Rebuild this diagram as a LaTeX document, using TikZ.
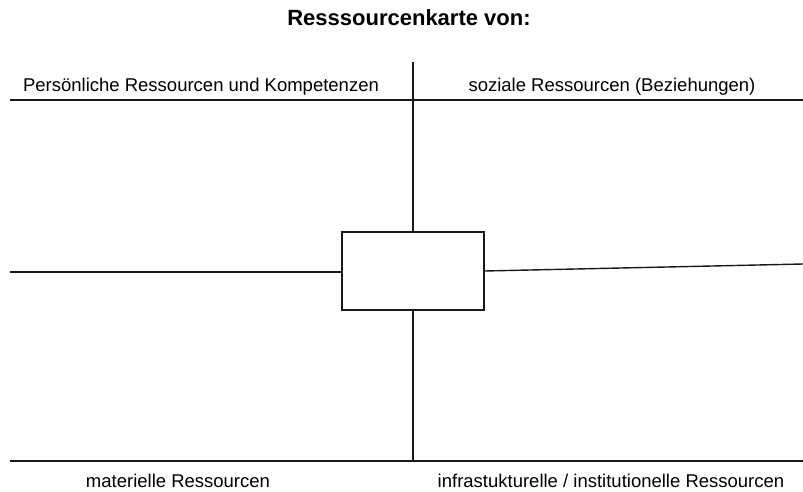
\documentclass[tikz,border=0pt]{standalone}
\usepackage{fontspec}
\setmainfont{Liberation Sans}
\begin{document}
\begin{tikzpicture}[x=1pt,y=-1pt,
  rule/.style={line width=1.4pt, black!90},
  lbl/.style={anchor=base, inner sep=0pt, font=\fontsize{18.5}{22}\selectfont},
  ttl/.style={anchor=base, inner sep=0pt, font=\fontsize{22}{26}\selectfont\bfseries},
  centerbox/.style={draw, line width=1.5pt, black!90, minimum width=142pt, minimum height=78pt, inner sep=0pt}]
\useasboundingbox (0,0) rectangle (803,492);
\fill[white] (0,0) rectangle (803,492);
% title
\node[ttl] (title) at (409,26) {Resssourcenkarte von:};
% centre box
\node[centerbox] (box) at (413,271) {};
% line end points
\coordinate (tl) at (10,100);
\coordinate (tr) at (803,100);
\coordinate (bl) at (10,461);
\coordinate (br) at (803,461);
\coordinate (vt) at (413,62);
\coordinate (vb) at (413,461);
\coordinate (ml) at (10,272);
\coordinate (mr) at (803,264);
% lines
\draw[rule] (tl) -- (tr);
\draw[rule] (bl) -- (br);
\draw[rule] (vt) -- (box.north);
\draw[rule] (box.south) -- (vb);
\draw[rule] (ml) -- (ml -| box.west);
\draw[rule] (box.east) -- (mr);
% labels
\node[lbl] (pers) at (201,92) {Persönliche Ressourcen und Kompetenzen};
\node[lbl] (soz) at (612,92) {soziale Ressourcen (Beziehungen)};
\node[lbl] (mat) at (178,487) {materielle Ressourcen};
\node[lbl] (inf) at (611,487) {infrastukturelle / institutionelle Ressourcen};
\end{tikzpicture}
\end{document}
